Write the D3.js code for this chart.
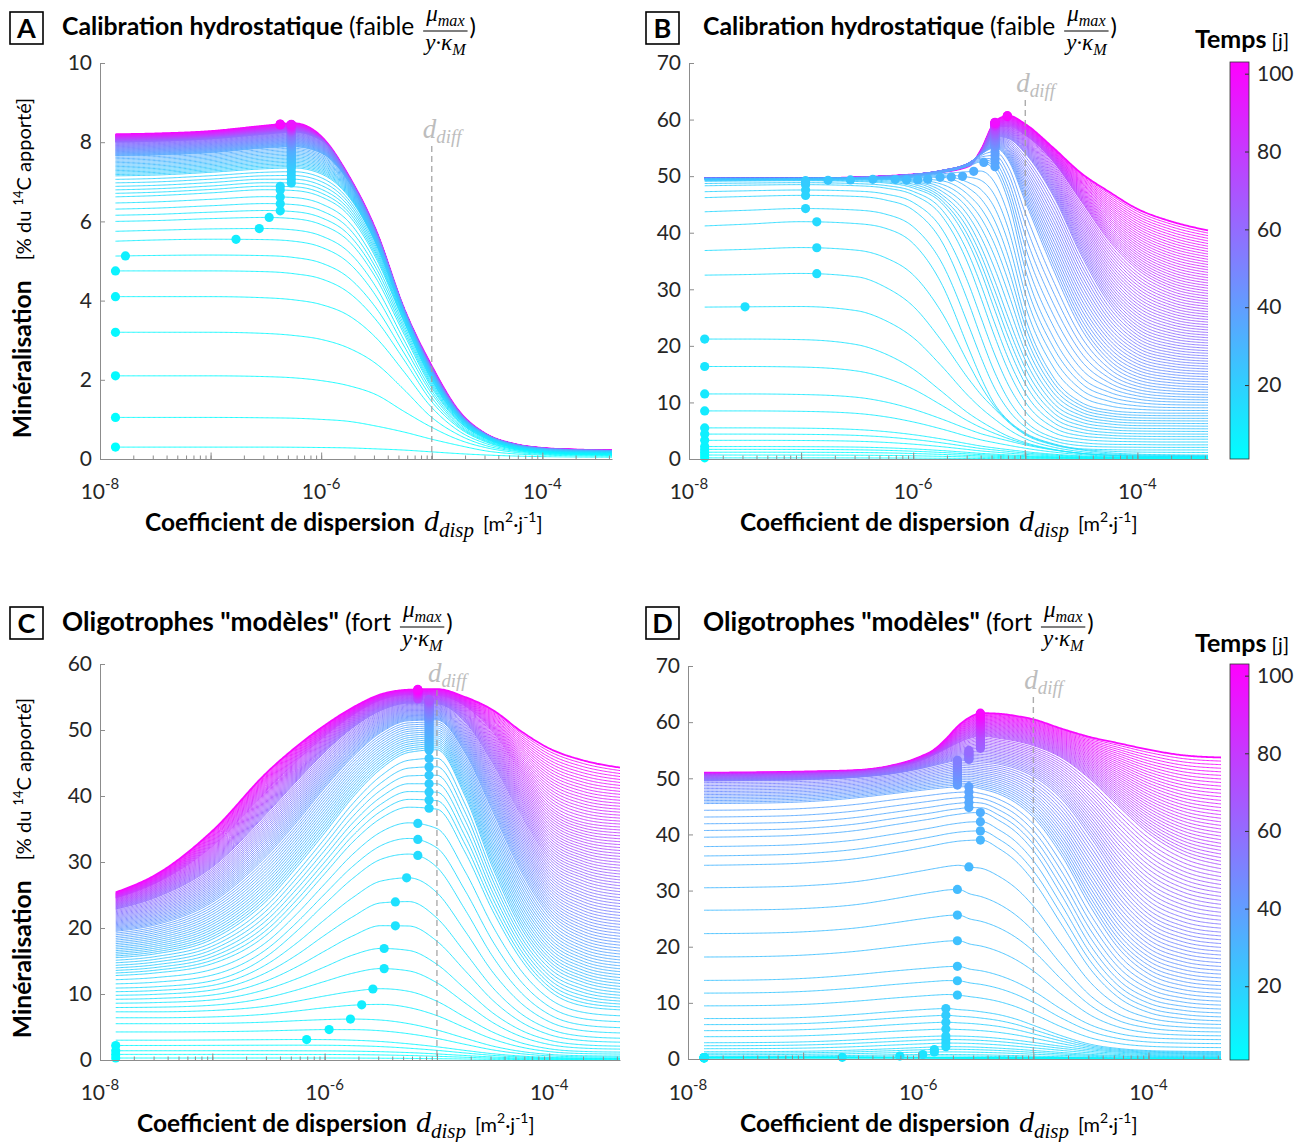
<!DOCTYPE html>
<html><head><meta charset="utf-8">
<script src="https://cdn.jsdelivr.net/npm/d3@7"></script>
<style>
body{margin:0;background:#fff;}
svg{display:block;}
</style></head><body>
<svg id="chart" width="1301" height="1142"></svg>
<script>
// ---------------- DATA ----------------
const days = d3.range(1, 101);               // Temps [j]
const colorbarTicks = [20, 40, 60, 80, 100];
const xTickLabels = [1e-8, 1e-6, 1e-4];
const dDiff = 1e-5;

// Panel A : log10(d_disp) grid, key days and key curves (% du 14C apporté)
const gridA = [-7.86,-7.5,-7.0,-6.5,-6.25,-6.0,-5.75,-5.5,-5.25,-5.0,-4.75,-4.5,-4.25,-4.0,-3.7,-3.37];
const keyDaysA = [1,2,3,4,5,6,8,10,14,20,35,60,100];
const keyCurvesA = [
  [0.3,0.3,0.3,0.3,0.297,0.29,0.28,0.255,0.225,0.18,0.135,0.1,0.075,0.06,0.05,0.045],
  [1.05,1.05,1.05,1.04,1.03,1.0,0.95,0.83,0.68,0.5,0.34,0.2,0.13,0.1,0.08,0.07],
  [2.1,2.1,2.1,2.08,2.05,1.98,1.85,1.62,1.2,0.8,0.48,0.28,0.17,0.12,0.1,0.09],
  [3.2,3.2,3.2,3.17,3.12,3.02,2.8,2.4,1.75,1.05,0.6,0.33,0.2,0.14,0.11,0.1],
  [4.1,4.1,4.1,4.07,4.02,3.9,3.62,3.05,2.2,1.3,0.7,0.38,0.22,0.15,0.12,0.11],
  [4.75,4.75,4.75,4.73,4.68,4.55,4.2,3.5,2.5,1.45,0.78,0.42,0.24,0.16,0.13,0.12],
  [5.5,5.53,5.55,5.54,5.5,5.35,4.95,4.1,2.85,1.65,0.85,0.46,0.26,0.18,0.14,0.13],
  [6.0,6.02,6.07,6.1,6.07,5.92,5.5,4.55,3.15,1.8,0.93,0.5,0.28,0.19,0.15,0.14],
  [6.62,6.65,6.72,6.8,6.78,6.62,6.15,5.05,3.45,1.98,1.0,0.53,0.3,0.2,0.16,0.15],
  [7.15,7.17,7.24,7.33,7.35,7.2,6.62,5.4,3.62,2.1,1.07,0.56,0.32,0.22,0.18,0.17],
  [7.65,7.67,7.73,7.85,7.88,7.72,7.0,5.6,3.72,2.2,1.12,0.59,0.35,0.25,0.21,0.2],
  [8.0,8.02,8.08,8.2,8.25,8.05,7.1,5.7,3.78,2.28,1.17,0.61,0.37,0.27,0.23,0.21],
  [8.2,8.22,8.28,8.42,8.48,8.15,7.15,5.75,3.8,2.35,1.2,0.62,0.38,0.28,0.24,0.22]
];
// maximum markers: [first day, last day, log10 d_disp]
const dotsA = [[1,6,-7.86],[7,7,-7.77],[8,8,-6.77],[9,9,-6.56],[10,10,-6.47],[11,15,-6.37],[16,95,-6.27],[96,100,-6.37]];

// Panel B
const gridB = [-7.86,-7.5,-7.0,-6.5,-6.25,-6.0,-5.75,-5.5,-5.4,-5.27,-5.15,-5.0,-4.75,-4.5,-4.25,-4.0,-3.7,-3.37];
const keyDaysB = [1,5,8,10,12,14,16,18,20,22,25,30,34,40,55,75,100];
const keyCurvesB = [
  [0.2,0.2,0.2,0.19,0.18,0.16,0.13,0.1,0.09,0.08,0.07,0.06,0.05,0.04,0.04,0.04,0.04,0.04],
  [2.2,2.2,2.18,2.1,1.98,1.78,1.5,1.15,1.0,0.85,0.72,0.58,0.4,0.27,0.2,0.16,0.14,0.13],
  [5.5,5.5,5.45,5.2,4.85,4.3,3.55,2.65,2.3,1.95,1.65,1.3,0.85,0.55,0.38,0.3,0.26,0.25],
  [11.5,11.5,11.4,10.9,10.1,8.8,7.1,5.2,4.5,3.8,3.2,2.5,1.6,1.0,0.65,0.5,0.42,0.4],
  [21.2,21.2,21.1,20.2,18.6,15.9,12.0,8.0,6.7,5.2,4.0,2.9,1.7,1.0,0.7,0.55,0.5,0.48],
  [32.5,32.6,32.8,32.2,30.4,27.0,21.0,14.0,11.5,8.8,6.5,4.3,2.5,1.6,1.1,0.85,0.75,0.7],
  [41.2,41.5,41.95,41.6,40.8,38.1,31.1,19.3,14.6,9.6,6.8,4.6,2.7,1.8,1.65,1.6,1.6,1.6],
  [46.2,46.4,46.6,46.4,45.8,44.0,38.6,27.3,21.8,15.2,10.5,6.7,3.8,2.9,2.6,2.55,2.5,2.5],
  [48.3,48.4,48.5,48.3,47.9,46.7,43.1,34.0,28.7,21.5,15.6,10.1,5.6,4.1,3.7,3.55,3.5,3.5],
  [49.1,49.15,49.2,49.05,48.8,47.9,45.3,37.9,33.3,26.2,19.8,13.3,7.35,5.3,4.66,4.47,4.42,4.4],
  [49.35,49.38,49.42,49.45,49.4,48.9,46.8,41.5,37.7,31.4,24.9,17.5,9.9,7.1,6.2,5.9,5.85,5.8],
  [49.5,49.5,49.55,49.6,49.65,49.7,49.8,47.8,46.1,42.0,35.7,25.0,14.5,10.0,8.6,8.2,8.1,8.1],
  [49.55,49.55,49.6,49.65,49.75,50.0,50.6,51.8,52.5,51.0,45.5,33.5,21.5,14.5,11.8,10.6,10.1,10.0],
  [49.6,49.6,49.6,49.7,49.85,50.2,50.9,52.3,53.8,55.0,52.8,45.5,33.5,23.0,16.8,14.0,13.0,12.7],
  [49.6,49.6,49.6,49.75,49.95,50.3,51.0,52.4,54.0,57.0,56.6,54.0,46.5,36.0,27.5,22.5,20.3,19.6],
  [49.6,49.6,49.6,49.8,50.0,50.3,50.9,52.2,54.2,58.8,58.7,57.2,52.5,45.5,38.5,33.5,30.2,28.8],
  [49.6,49.6,49.6,49.8,50.0,50.3,50.7,51.8,54.5,59.6,60.7,59.2,55.0,50.5,47.2,44.2,42.0,40.4]
];
const dotsB = [[1,12,-7.86],[13,13,-7.5],[14,16,-6.86],[17,22,-6.96],[23,23,-6.76],[24,24,-6.56],[25,25,-6.36],
  [26,26,-6.16],[27,27,-6.06],[28,28,-5.96],[29,29,-5.87],[30,30,-5.76],[31,31,-5.66],[32,32,-5.56],
  [33,33,-5.46],[34,34,-5.37],[35,97,-5.27],[98,100,-5.16]];

// Panel C
const gridC = [-7.86,-7.5,-7.0,-6.5,-6.25,-6.0,-5.75,-5.5,-5.25,-5.0,-4.75,-4.5,-4.25,-4.0,-3.7,-3.37];
const keyDaysC = [1,3,5,7,9,11,13,15,18,25,40,60,80,100];
const keyCurvesC = [
  [0.3,0.3,0.3,0.3,0.3,0.3,0.29,0.27,0.24,0.2,0.15,0.1,0.07,0.05,0.04,0.04],
  [1.4,1.4,1.4,1.4,1.39,1.38,1.34,1.26,1.12,0.92,0.68,0.45,0.3,0.2,0.16,0.15],
  [3.0,3.0,3.03,3.08,3.1,3.09,3.0,2.8,2.45,2.0,1.45,0.95,0.6,0.4,0.32,0.3],
  [5.5,5.5,5.55,5.75,5.95,6.12,6.2,6.05,5.5,4.55,3.3,2.1,1.3,0.85,0.65,0.6],
  [7.3,7.3,7.5,8.2,8.9,9.7,10.4,10.8,10.4,8.9,6.5,4.2,2.6,1.7,1.3,1.2],
  [8.6,8.7,9.1,10.8,12.3,14.1,15.9,16.9,16.6,14.5,10.8,7.1,4.5,3.0,2.3,2.1],
  [9.8,9.95,10.6,13.4,15.9,18.9,21.7,23.8,24.0,21.5,16.3,10.9,7.0,4.7,3.6,3.3],
  [10.9,11.1,12.0,15.9,19.5,23.6,27.5,30.4,31.2,29.2,22.8,15.6,10.2,6.9,5.3,4.9],
  [12.8,13.2,14.6,19.2,23.4,28.2,33.0,36.6,38.3,38.0,31.5,22.5,15.2,10.5,8.2,7.6],
  [15.5,16.1,18.3,24.4,29.2,34.4,39.8,44.1,46.6,47.0,40.0,29.0,20.0,14.5,11.8,10.7],
  [19.5,20.5,23.9,31.2,36.0,41.2,45.9,49.6,51.4,51.5,46.5,37.5,28.5,22.0,18.6,17.4],
  [22.8,24.6,29.2,37.6,42.2,46.6,50.3,52.9,54.0,53.9,51.2,44.8,37.0,30.5,27.6,26.4],
  [24.5,26.8,32.3,41.0,45.2,49.0,52.2,54.5,55.3,55.2,53.6,49.6,43.6,38.5,36.0,35.3],
  [25.4,28.1,34.7,43.8,47.5,50.7,53.4,55.4,56.1,56.2,55.0,53.0,49.8,47.2,45.4,44.3]
];
const dotsC = [[1,4,-7.86],[5,5,-6.16],[6,6,-5.96],[7,7,-5.77],[8,8,-5.67],[9,9,-5.57],[10,11,-5.47],
  [12,13,-5.37],[14,14,-5.27],[15,17,-5.17],[18,70,-5.07],[71,100,-5.17]];

// Panel D
const gridD = [-7.86,-7.5,-7.0,-6.5,-6.25,-6.0,-5.85,-5.75,-5.65,-5.55,-5.45,-5.3,-5.15,-5.0,-4.75,-4.5,-4.25,-4.0,-3.7,-3.37];
const keyDaysD = [1,10,12,15,18,22,25,28,30,33,38,53,70,100];
const keyCurvesD = [
  [0.2,0.2,0.2,0.2,0.2,0.2,0.19,0.19,0.18,0.18,0.17,0.16,0.15,0.13,0.11,0.09,0.07,0.06,0.05,0.05],
  [0.28,0.29,0.3,0.3,0.29,0.28,0.27,0.26,0.25,0.24,0.23,0.21,0.19,0.17,0.14,0.11,0.09,0.08,0.07,0.07],
  [0.5,0.51,0.55,0.66,0.74,0.79,0.8,0.8,0.79,0.77,0.74,0.68,0.6,0.52,0.4,0.3,0.22,0.18,0.16,0.15],
  [1.3,1.31,1.38,1.62,1.82,2.03,2.15,2.2,2.19,2.15,2.08,1.93,1.74,1.52,1.15,0.82,0.6,0.48,0.42,0.4],
  [2.9,2.92,3.05,3.45,3.72,3.95,4.06,4.1,4.08,4.02,3.92,3.68,3.35,2.95,2.25,1.62,1.2,0.95,0.85,0.82],
  [7.2,7.22,7.4,8.0,8.4,8.75,8.93,9.0,8.8,8.65,8.4,7.9,7.1,6.0,4.1,2.6,1.85,1.5,1.37,1.32],
  [14.0,14.05,14.35,15.1,15.6,16.05,16.3,16.45,16.5,16.0,15.7,14.9,13.7,12.1,8.8,6.05,4.5,3.8,3.55,3.45],
  [26.5,26.55,26.8,27.6,28.4,29.3,29.8,30.1,30.2,29.4,28.9,27.6,25.6,22.8,16.7,11.2,7.9,6.4,5.7,5.5],
  [34.5,34.6,34.9,35.8,36.6,37.5,38.1,38.5,38.8,38.95,39.0,37.5,35.2,31.7,23.8,15.9,10.8,8.3,7.2,6.8],
  [39.5,39.6,39.9,40.8,41.6,42.4,42.9,43.3,43.6,43.85,43.9,42.5,40.4,37.1,29.0,20.1,13.9,10.8,9.4,8.9],
  [45.5,45.55,45.8,46.6,47.2,47.8,48.15,48.35,48.48,48.5,48.1,47.2,45.6,43.05,36.1,27.0,19.5,15.2,13.1,12.4],
  [49.5,49.55,49.7,50.2,50.7,51.6,52.3,52.8,53.2,53.1,52.9,52.5,51.7,50.3,46.2,39.4,31.9,26.6,23.7,22.6],
  [50.5,50.55,50.7,51.1,51.8,53.0,54.3,55.3,56.3,57.1,57.5,57.1,56.6,55.8,53.6,49.7,44.8,40.2,36.5,34.6],
  [51.0,51.05,51.2,51.5,52.2,53.7,55.3,57.2,59.4,60.9,61.6,61.5,61.1,60.5,58.8,57.3,56.2,55.1,54.1,53.7]
];
const dotsD = [[1,9,-7.86],[10,10,-6.66],[11,11,-6.16],[12,12,-5.96],[13,14,-5.86],[15,22,-5.76],[23,28,-5.66],
  [29,29,-5.56],[30,33,-5.46],[34,38,-5.56],[39,53,-5.66],[54,61,-5.56],[62,100,-5.46]];

// ---------------- LAYOUT ----------------
const FONT = "Lato, 'Open Sans', 'DejaVu Sans', sans-serif";
const SERIF = "'Liberation Serif', 'DejaVu Serif', serif";
const panels = [
  {id:'A', grid:gridA, keyDays:keyDaysA, keyCurves:keyCurvesA, dots:dotsA, yMax:10, yStep:2,
   x0:100, x1:612, yTop:63, yBot:459, boxX:10, boxY:12, titleX:62, titleY:35, titleW:281,
   title:'Calibration hydrostatique', qual:'faible', ylab:[31,268], xlabX:145, xlabY:531, xtY:499, ddTop:146, cbar:null},
  {id:'B', grid:gridB, keyDays:keyDaysB, keyCurves:keyCurvesB, dots:dotsB, yMax:70, yStep:10,
   x0:689, x1:1208, yTop:63, yBot:459, boxX:646, boxY:12, titleX:703, titleY:35, titleW:281,
   title:'Calibration hydrostatique', qual:'faible', ylab:null, xlabX:740, xlabY:531, xtY:499, ddTop:100,
   cbar:{x:1230, top:62, bot:459, titleY:48}},
  {id:'C', grid:gridC, keyDays:keyDaysC, keyCurves:keyCurvesC, dots:dotsC, yMax:60, yStep:10,
   x0:100, x1:620, yTop:664, yBot:1060, boxX:10, boxY:607, titleX:62, titleY:631, titleW:277,
   title:'Oligotrophes "modèles"', qual:'fort', ylab:[31,868], xlabX:137, xlabY:1132, xtY:1100, ddTop:690, cbar:null},
  {id:'D', grid:gridD, keyDays:keyDaysD, keyCurves:keyCurvesD, dots:dotsD, yMax:70, yStep:10,
   x0:688, x1:1221, yTop:666, yBot:1059, boxX:646, boxY:607, titleX:703, titleY:631, titleW:277,
   title:'Oligotrophes "modèles"', qual:'fort', ylab:null, xlabX:740, xlabY:1132, xtY:1100, ddTop:697,
   cbar:{x:1230, top:664, bot:1060, titleY:652}}
];

const svg = d3.select('#chart');
const tColor = d3.scaleLinear().domain([1, 103]).range([0, 1]).clamp(true);
const coolColor = d => { const t = tColor(d); return d3.rgb(255*t, 255*(1-t), 255).formatHex(); };

const defs = svg.append('defs');
const grad = defs.append('linearGradient').attr('id','coolGrad').attr('x1',0).attr('y1',1).attr('x2',0).attr('y2',0);
grad.append('stop').attr('offset','0%').attr('stop-color','#00ffff');
grad.append('stop').attr('offset','100%').attr('stop-color','#ff00ff');

// monotone cubic (same slopes as d3.curveMonotoneX)
function monotoneEval(xs, ys){
  const n = xs.length, h = [], s = [], m = new Array(n);
  for (let i=0;i<n-1;i++){ h[i]=xs[i+1]-xs[i]; s[i]=(ys[i+1]-ys[i])/h[i]; }
  for (let i=1;i<n-1;i++){
    const p = (s[i-1]*h[i] + s[i]*h[i-1])/(h[i-1]+h[i]);
    m[i] = ((Math.sign(s[i-1]) + Math.sign(s[i])) * Math.min(Math.abs(s[i-1]), Math.abs(s[i]), 0.5*Math.abs(p))) || 0;
  }
  m[0] = (3*s[0] - m[1])/2; m[n-1] = (3*s[n-2] - m[n-2])/2;
  return x => {
    let i = d3.bisectRight(xs, x) - 1; i = Math.max(0, Math.min(n-2, i));
    const hh = h[i], t = (x - xs[i]) / hh, t2 = t*t, t3 = t2*t;
    return (2*t3-3*t2+1)*ys[i] + (t3-2*t2+t)*hh*m[i] + (-2*t3+3*t2)*ys[i+1] + (t3-t2)*hh*m[i+1];
  };
}
function curveForDay(keyDays, keyCurves, d){
  let k = d3.bisectRight(keyDays, d) - 1; k = Math.max(0, Math.min(keyDays.length-2, k));
  const w = (d - keyDays[k]) / (keyDays[k+1] - keyDays[k]);
  return keyCurves[k].map((v,i) => v + (keyCurves[k+1][i]-v)*w);
}
function fitWidth(sel, size, target){
  sel.attr('font-size', size);
  const w = sel.node().getComputedTextLength();
  const s = size * target / w;
  sel.attr('font-size', s);
  return s;
}
function addMath(parent, x, y, main, sub, size, color){
  const t = parent.append('text').attr('x', x).attr('y', y).attr('font-family', SERIF)
    .attr('font-style','italic').attr('font-size', size).attr('fill', color || '#000');
  t.append('tspan').text(main);
  t.append('tspan').attr('font-size', size*0.7).attr('dy', size*0.2).text(sub);
  return t;
}

panels.forEach(p => {
  const g = svg.append('g');
  const x = d3.scaleLog().domain([1e-8, Math.pow(10,-3.37)]).range([p.x0, p.x1]);
  const y = d3.scaleLinear().domain([0, p.yMax]).range([p.yBot, p.yTop]);
  const lo = p.grid[0], hi = p.grid[p.grid.length-1];
  const samples = d3.range(0, 401).map(i => lo + (hi-lo)*i/400);
  const line = d3.line().x(q => x(Math.pow(10,q[0]))).y(q => y(q[1]));

  const evals = days.map(d => monotoneEval(p.grid, curveForDay(p.keyDays, p.keyCurves, d)));

  // curves: latest day first so earlier days lie on top where they coincide
  const lg = g.append('g').attr('fill','none');
  days.slice().reverse().forEach(d => {
    lg.append('path').attr('d', line(samples.map(s => [s, evals[d-1](s)])))
      .attr('stroke', coolColor(d)).attr('stroke-width', d === 100 ? 1.8 : 0.9);
  });

  // d_diff dashed line
  g.append('line').attr('x1', x(dDiff)).attr('x2', x(dDiff)).attr('y1', p.ddTop).attr('y2', p.yBot)
    .attr('stroke','#9e9e9e').attr('stroke-opacity',0.85).attr('stroke-width',1.4).attr('stroke-dasharray','6,4');

  // maxima markers
  const dotDays = [];
  p.dots.forEach(r => { for (let d=r[0]; d<=r[1]; d++) dotDays.push([d, r[2]]); });
  g.append('g').selectAll('circle').data(dotDays).join('circle')
    .attr('cx', q => x(Math.pow(10,q[1]))).attr('cy', q => y(evals[q[0]-1](q[1])))
    .attr('r', 4.6).attr('fill', q => coolColor(q[0]));

  // d_diff label
  addMath(g, x(dDiff)-9, p.ddTop-8, 'd', 'diff', 27, '#bdbdbd');

  // axes
  const yAxis = d3.axisLeft(y).tickValues(d3.range(0, p.yMax+0.001, p.yStep)).tickSize(-5).tickSizeOuter(0).tickPadding(8);
  const ya = g.append('g').attr('transform', `translate(${p.x0},0)`).call(yAxis);
  ya.select('.domain').attr('stroke','#8c8c8c');
  ya.selectAll('.tick line').attr('stroke','#8c8c8c');
  ya.selectAll('.tick text').attr('font-family', FONT).attr('font-size', 21).attr('fill','#262626');

  const minor = [];
  for (let e=-8; e<=-4; e++) for (let k=1;k<=9;k++){ const v = k*Math.pow(10,e); if (v <= Math.pow(10,-3.37)) minor.push(v); }
  const xAxisMinor = d3.axisBottom(x).tickValues(minor).tickSize(-3.5).tickSizeOuter(0).tickFormat('');
  const xa = g.append('g').attr('transform', `translate(0,${p.yBot})`).call(xAxisMinor);
  xa.select('.domain').attr('stroke','#8c8c8c');
  xa.selectAll('.tick line').attr('stroke','#8c8c8c');
  const xAxisMajor = d3.axisBottom(x).tickValues([1e-8,1e-7,1e-6,1e-5,1e-4]).tickSize(-6.5).tickSizeOuter(0).tickFormat('');
  const xb = g.append('g').attr('transform', `translate(0,${p.yBot})`).call(xAxisMajor);
  xb.select('.domain').remove();
  xb.selectAll('.tick line').attr('stroke','#8c8c8c');
  xTickLabels.forEach(v => {
    const t = g.append('text').attr('x', x(v)).attr('y', p.xtY).attr('text-anchor','middle')
      .attr('font-family', FONT).attr('fill','#262626');
    t.append('tspan').attr('font-size',21).text('10');
    t.append('tspan').attr('font-size',15).attr('dy',-10).text(String(Math.round(Math.log10(v))));
  });

  // x label
  const xlb = g.append('text').attr('x', p.xlabX).attr('y', p.xlabY).attr('font-family', FONT)
    .attr('font-weight','bold').attr('fill','#000').text('Coefficient de dispersion');
  fitWidth(xlb, 22, 270);
  let cx = p.xlabX + 279;
  const dm = addMath(g, cx, p.xlabY, 'd', 'disp', 30);
  cx += dm.node().getComputedTextLength() + 9;
  const un = g.append('text').attr('x', cx).attr('y', p.xlabY).attr('font-family', FONT).attr('fill','#000');
  un.append('tspan').attr('font-size',20).text('[m');
  un.append('tspan').attr('font-size',14).attr('dy',-9).text('2');
  un.append('tspan').attr('font-size',20).attr('dy',9).text('·j');
  un.append('tspan').attr('font-size',14).attr('dy',-9).text('-1');
  un.append('tspan').attr('font-size',20).attr('dy',9).text(']');

  // y label
  if (p.ylab){
    const yg = g.append('g').attr('transform', `translate(${p.ylab[0]},${p.ylab[1]}) rotate(-90)`);
    const yb = yg.append('text').attr('font-family', FONT).attr('font-weight','bold').attr('fill','#000').text('Minéralisation');
    fitWidth(yb, 24, 158);
    const yr = yg.append('text').attr('font-family', FONT).attr('fill','#000');
    yr.append('tspan').attr('font-size',20).text('[% du ');
    yr.append('tspan').attr('font-size',13).attr('dy',-8).text('14');
    yr.append('tspan').attr('font-size',20).attr('dy',8).text('C apporté]');
    const wr = yr.node().getComputedTextLength();
    const total = 158 + 20 + wr;
    yb.attr('x', -total/2);
    yr.attr('x', -total/2 + 178);
  }

  // panel letter box
  g.append('rect').attr('x', p.boxX).attr('y', p.boxY).attr('width',33).attr('height',32)
    .attr('fill','none').attr('stroke','#000').attr('stroke-width',1.6);
  g.append('text').attr('x', p.boxX+16.5).attr('y', p.boxY+26).attr('text-anchor','middle')
    .attr('font-family', FONT).attr('font-weight','bold').attr('font-size',27).text(p.id);

  // title
  const tb = g.append('text').attr('x', p.titleX).attr('y', p.titleY).attr('font-family', FONT)
    .attr('font-weight','bold').attr('fill','#000').text(p.title);
  const ts = fitWidth(tb, 24, p.titleW);
  const tr = g.append('text').attr('x', p.titleX + p.titleW + 6).attr('y', p.titleY).attr('font-family', FONT)
    .attr('font-size', Math.min(ts, 24.5)).attr('fill','#000').text('(' + p.qual);
  const fx = p.titleX + p.titleW + 6 + tr.node().getComputedTextLength() + 9;
  const num = addMath(g, fx, p.titleY-14, 'μ', 'max', 23);
  const den = addMath(g, fx, p.titleY+15, 'y·κ', 'M', 23);
  const nw = num.node().getComputedTextLength(), dw = den.node().getComputedTextLength();
  const fw = Math.max(nw, dw) + 4;
  num.attr('x', fx + (fw-nw)/2); den.attr('x', fx + (fw-dw)/2);
  g.append('line').attr('x1', fx).attr('x2', fx+fw).attr('y1', p.titleY-4).attr('y2', p.titleY-4).attr('stroke','#000').attr('stroke-width',1.2);
  g.append('text').attr('x', fx+fw+2).attr('y', p.titleY).attr('font-family', FONT).attr('font-size',24).text(')');

  // colorbar
  if (p.cbar){
    const c = p.cbar;
    const cs = d3.scaleLinear().domain([1, 103]).range([c.bot, c.top]);
    g.append('rect').attr('x', c.x).attr('y', c.top).attr('width', 19).attr('height', c.bot-c.top)
      .attr('fill','url(#coolGrad)').attr('stroke','#333').attr('stroke-width',0.8);
    const ca = d3.axisRight(cs).tickValues(colorbarTicks).tickSize(-4).tickSizeOuter(0).tickPadding(8);
    const cg = g.append('g').attr('transform', `translate(${c.x+19},0)`).call(ca);
    cg.select('.domain').remove();
    cg.selectAll('.tick line').attr('stroke','#333');
    cg.selectAll('.tick text').attr('font-family', FONT).attr('font-size',21).attr('fill','#262626');
    const ct = g.append('text').attr('x', 1195).attr('y', c.titleY).attr('font-family', FONT).attr('fill','#000');
    ct.append('tspan').attr('font-weight','bold').attr('font-size',25).text('Temps');
    ct.append('tspan').attr('font-size',20).text('\u00a0[j]');
  }
});
</script></body></html>
